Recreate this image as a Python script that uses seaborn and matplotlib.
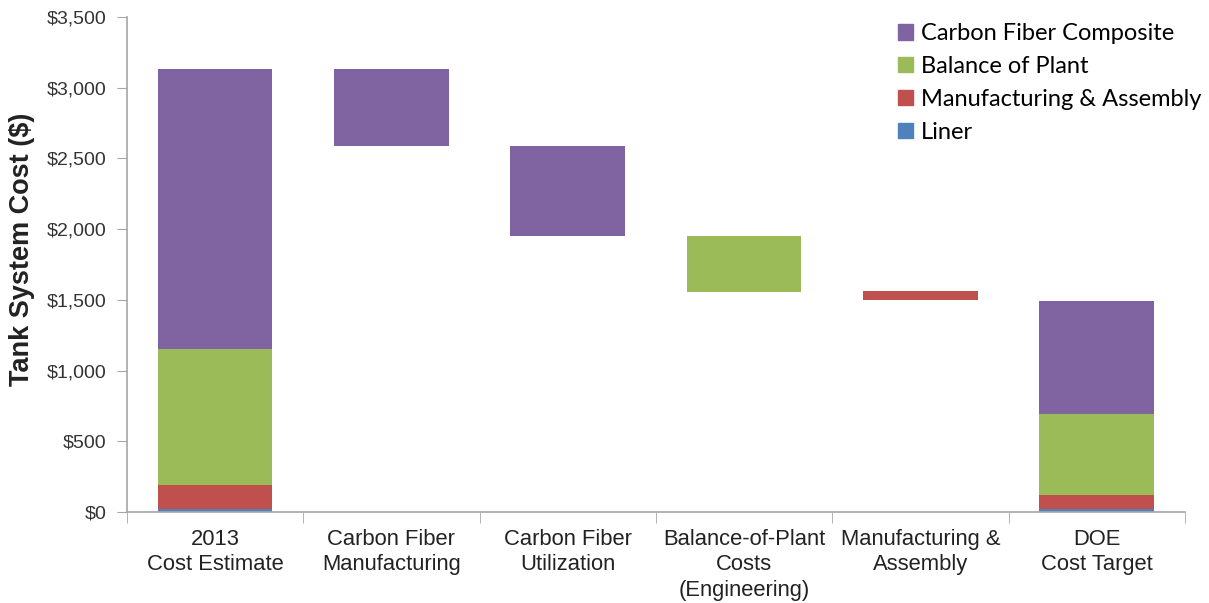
import pandas as pd
import matplotlib.pyplot as plt
import numpy as np
import seaborn as sns
from matplotlib.ticker import FuncFormatter, FixedLocator
from matplotlib.patches import Patch

categories = ["2013\nCost Estimate", "Carbon Fiber\nManufacturing", "Carbon Fiber\nUtilization",
              "Balance-of-Plant\nCosts\n(Engineering)", "Manufacturing &\nAssembly", "DOE\nCost Target"]
components = ["Liner", "Manufacturing & Assembly", "Balance of Plant", "Carbon Fiber Composite"]
colors = {"Liner": "#4F81BD", "Manufacturing & Assembly": "#C0504D",
          "Balance of Plant": "#9BBB59", "Carbon Fiber Composite": "#8064A2"}

# 2013 estimate and DOE target, stacked by component
estimate_2013 = [18, 173, 961, 1978]
doe_target = [18, 102, 573, 795]
# waterfall steps: (component, from, to)
step_component = ["Carbon Fiber Composite", "Carbon Fiber Composite", "Balance of Plant", "Manufacturing & Assembly"]
step_from = [3130, 2590, 1948, 1562]
step_to = [2590, 1948, 1555, 1495]

rows = []
for cat, vals in [(categories[0], estimate_2013), (categories[5], doe_target)]:
    b = 0
    for comp, v in zip(components, vals):
        rows.append([cat, comp, b, v])
        b += v
for cat, comp, f, t in zip(categories[1:5], step_component, step_from, step_to):
    rows.append([cat, comp, t, f - t])
df = pd.DataFrame(rows, columns=["category", "component", "base", "height"])

plt.rcParams['font.family'] = ['Liberation Sans', 'DejaVu Sans']
fig = plt.figure(figsize=(12.09, 6.03), dpi=100)
ax = fig.add_axes([0.105, 0.151, 0.875, 0.821])

for _, r in df.iterrows():
    sns.barplot(x=[r["category"]], y=[r["height"]], order=categories, color=colors[r["component"]],
                bottom=r["base"], width=0.65, saturation=1, ax=ax, linewidth=0)

ax.set_ylim(0, 3500)
ax.set_xlim(-0.5, 5.5)
ax.yaxis.set_major_locator(FixedLocator(np.arange(0, 3501, 500)))
ax.yaxis.set_major_formatter(FuncFormatter(lambda v, p: "${:,.0f}".format(v)))
ax.set_ylabel("Tank System Cost ($)", fontsize=19.5, fontweight="bold", color="#222222")
ax.yaxis.set_label_coords(-0.087, 0.53)
ax.set_xlabel("")
ax.tick_params(axis="y", labelsize=14, labelcolor="#333333", length=7, color="#A6A6A6", pad=8)
ax.tick_params(axis="x", which="major", labelsize=15.8, labelcolor="#222222", length=0, pad=12)
for t in ax.get_xticklabels():
    t.set_linespacing(1.3)
ax.set_xticks(np.arange(-0.5, 6, 1), minor=True)
ax.tick_params(axis="x", which="minor", length=8, color="#A6A6A6")
for s in ["top", "right"]:
    ax.spines[s].set_visible(False)
for s in ["left", "bottom"]:
    ax.spines[s].set_color("#A6A6A6")
    ax.spines[s].set_linewidth(1.2)

handles = [Patch(color=colors[c], label=c) for c in components[::-1]]
ax.legend(handles=handles, loc="upper left", bbox_to_anchor=(0.709, 1.03), frameon=False,
          prop={"family": "Lato", "size": 17}, handlelength=0.62, handleheight=0.62,
          handletextpad=0.35, labelspacing=0.5)

fig.savefig("out.png", dpi=100)
